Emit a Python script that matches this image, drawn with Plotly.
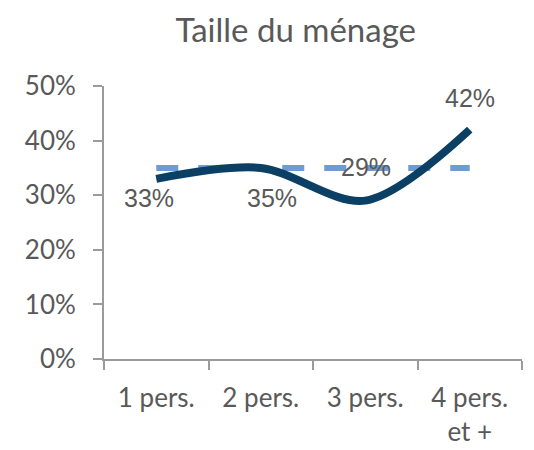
import plotly.graph_objects as go

categories = ["1 pers.", "2 pers.", "3 pers.", "4 pers.<br>et +"]
values = [33, 35, 29, 42]
reference = [35, 35, 35, 35]
labels = ["33%", "35%", "29%", "42%"]

# label offsets (px) relative to each point, as in the original
label_shift = [(-7, -19), (11, -30), (1, 34), (0, 32)]

GREY = "#595959"
AXIS = "#9a9a9a"

fig = go.Figure()

fig.add_trace(go.Scatter(
    x=categories, y=reference, mode="lines",
    line=dict(color="#6f9bd3", width=6, dash="22px,20px"),
    hoverinfo="skip",
))

fig.add_trace(go.Scatter(
    x=categories, y=values, mode="lines",
    line=dict(color="#0b3f63", width=8, shape="spline", smoothing=0.9),
))

for cat, val, lab, (dx, dy) in zip(categories, values, labels, label_shift):
    fig.add_annotation(
        x=cat, y=val, text=lab, showarrow=False,
        xshift=dx, yshift=dy,
        font=dict(family="Liberation Sans, Arial", size=25, color=GREY),
    )

fig.update_layout(
    width=526, height=442,
    margin=dict(l=96, r=12, t=78, b=91),
    paper_bgcolor="white", plot_bgcolor="white",
    showlegend=False,
    title=dict(
        text="Taille du ménage", x=0.547, xanchor="center",
        y=0.95, yanchor="middle",
        font=dict(family="Lato, Open Sans", size=33, color=GREY),
    ),
    font=dict(family="Lato, Open Sans", color=GREY),
)

fig.update_xaxes(
    type="category", tickson="boundaries", ticks="outside",
    ticklen=9, tickwidth=2, tickcolor=AXIS,
    showline=True, linecolor=AXIS, linewidth=2,
    showgrid=False, zeroline=False,
    tickfont=dict(family="Lato, Open Sans", size=26, color=GREY),
    ticklabelstandoff=15, automargin=False,
    range=[-0.5, 3.5],
)

fig.update_yaxes(
    range=[0, 50], tickvals=[0, 10, 20, 30, 40, 50],
    ticktext=["0%", "10%", "20%", "30%", "40%", "50%"],
    ticks="outside", ticklen=9, tickwidth=2, tickcolor=AXIS,
    showline=True, linecolor=AXIS, linewidth=2,
    showgrid=False, zeroline=False,
    tickfont=dict(family="Lato, Open Sans", size=26, color=GREY),
    ticklabelstandoff=12, automargin=False,
)

fig.write_html("out.html")
